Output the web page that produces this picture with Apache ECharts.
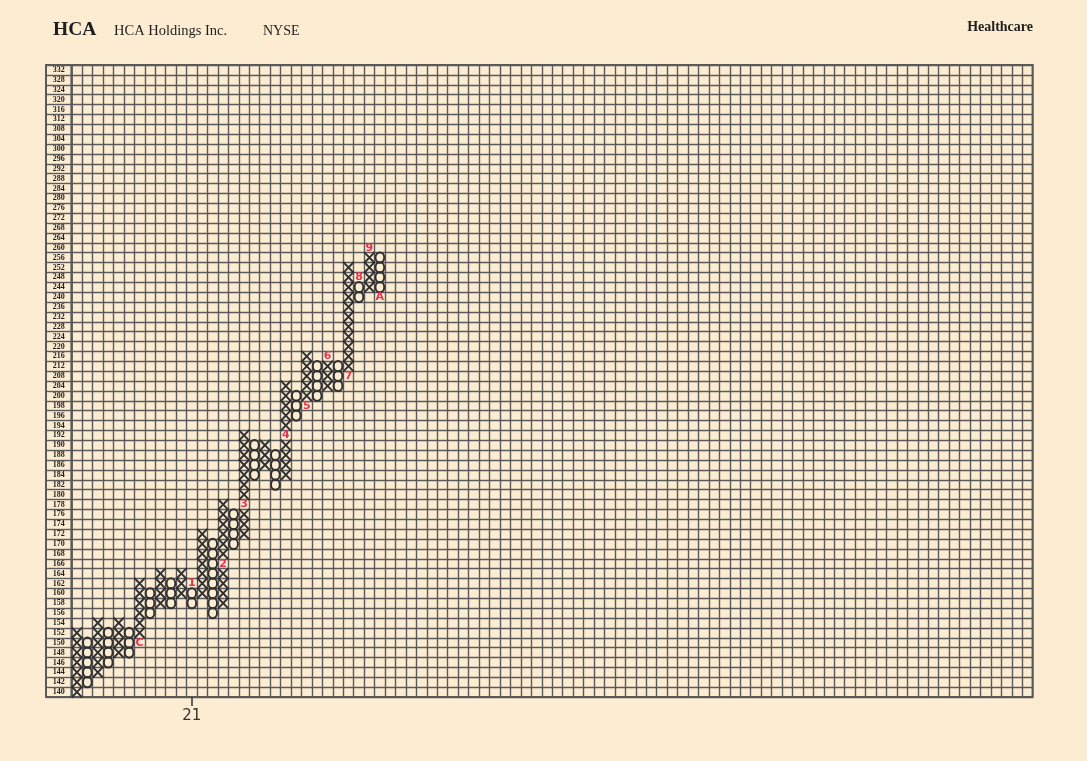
<!DOCTYPE html>
<html>
<head>
<meta charset="utf-8">
<script src="https://cdn.jsdelivr.net/npm/echarts@6/dist/echarts.min.js"></script>
<style>
html,body{margin:0;padding:0;background:#fcecd2;}
#chart{width:1087px;height:761px;}
</style>
</head>
<body>
<div id="chart"></div>
<script>
// Price boxes (row labels), bottom to top
const rows = [140,142,144,146,148,150,152,154,156,158,160,162,164,166,168,170,172,174,176,178,180,182,184,186,188,190,192,194,196,198,200,
  204,208,212,216,220,224,228,232,236,240,244,248,252,256,260,264,268,272,276,280,284,288,292,296,300,304,308,312,316,320,324,328,332];
const columnCount = 92;

// Point & figure columns (X = rising, O = falling)
const colType = ['X','O','X','O','X','O','X','O','X','O','X','O','X','O','X','O','X','O','X','O','X','O','X','O','X','O','X','O','X','O'];
const colLow  = [140,142,144,146,148,148,150,156,158,158,160,158,160,156,158,170,172,184,186,182,184,196,198,200,204,204,208,240,244,240];
const colHigh = [152,150,154,152,154,152,162,160,164,162,164,162,172,170,178,176,192,190,190,188,204,200,216,212,216,212,252,248,260,256];

// Month markers (column index, box value, label)
const markCol   = [6,11,14,16,20,22,24,26,27,28,29];
const markValue = [150,162,166,178,192,198,216,208,248,260,240];
const markText  = ['C','1','2','3','4','5','6','7','8','9','A'];

// Year marker on the time axis
const yearCol = 11;
const yearLabel = '21';

const boxes = [];
for (let c = 0; c < colType.length; c++) {
  const lo = rows.indexOf(colLow[c]), hi = rows.indexOf(colHigh[c]);
  for (let r = lo; r <= hi; r++) {
    let marked = false;
    for (let m = 0; m < markCol.length; m++) {
      if (markCol[m] === c && markValue[m] === rows[r]) marked = true;
    }
    if (!marked) boxes.push([c, r, colType[c]]);
  }
}
const marks = markCol.map((c, i) => [c, rows.indexOf(markValue[i]), markText[i]]);

const cols = [];
for (let i = 0; i < columnCount; i++) cols.push(String(i));

const lineColor = '#5a5a5a';
const inkColor = '#303030';

const chart = echarts.init(document.getElementById('chart'), null, {renderer:'canvas'});
chart.setOption({
  backgroundColor: '#fcecd2',
  animation: false,
  title: [
    {text:'HCA', left:53, top:20, padding:0, textStyle:{fontFamily:'Liberation Serif', fontWeight:'bold', fontSize:19.5, color:'#1e1e1e'}},
    {text:'HCA Holdings Inc.', left:114, top:24, padding:0, textStyle:{fontFamily:'Liberation Serif', fontWeight:'normal', fontSize:14.5, color:'#1e1e1e'}},
    {text:'NYSE', left:263, top:24, padding:0, textStyle:{fontFamily:'Liberation Serif', fontWeight:'normal', fontSize:14, color:'#1e1e1e'}},
    {text:'Healthcare', right:54, top:20, padding:0, textStyle:{fontFamily:'Liberation Serif', fontWeight:'bold', fontSize:14, color:'#1e1e1e'}}
  ],
  grid: [
    {left:71.7, right:54.3, top:65, bottom:64, show:true, borderColor:lineColor, borderWidth:2, backgroundColor:'transparent'},
    {left:46, width:25.7, top:65, bottom:64, show:true, borderColor:lineColor, borderWidth:2, backgroundColor:'transparent'}
  ],
  xAxis: [
    {type:'category', gridIndex:0, data:cols, boundaryGap:true,
     axisLine:{show:false},
     axisTick:{show:true, alignWithLabel:true, length:9, interval:(i)=>i===yearCol, lineStyle:{color:'#333', width:1.5}},
     axisLabel:{show:true, interval:(i)=>i===yearCol, formatter:(v,i)=> i===yearCol ? yearLabel : '', margin:12, fontSize:15, color:'#333', fontFamily:'DejaVu Sans'},
     splitLine:{show:true, interval:0, lineStyle:{color:lineColor, width:1.4}}},
    {type:'category', gridIndex:1, data:['a'], axisLine:{show:false}, axisTick:{show:false}, axisLabel:{show:false}, splitLine:{show:false}}
  ],
  yAxis: [
    {type:'category', gridIndex:0, data:rows, boundaryGap:true,
     axisLine:{show:false}, axisTick:{show:false},
     axisLabel:{show:true, interval:0, align:'center', margin:13, fontSize:8, fontWeight:'bold', fontFamily:'Liberation Serif', color:'#1e1e1e'},
     splitLine:{show:true, interval:0, lineStyle:{color:lineColor, width:1.4}}},
    {type:'category', gridIndex:1, data:rows, boundaryGap:true,
     axisLine:{show:false}, axisTick:{show:false}, axisLabel:{show:false},
     splitLine:{show:true, interval:0, lineStyle:{color:lineColor, width:1.4}}}
  ],
  series: [
    {type:'custom', xAxisIndex:0, yAxisIndex:0, data:boxes, silent:true,
     renderItem:function(params, api){
       const p = api.coord([api.value(0), api.value(1)]);
       const s = api.size([1,1]);
       const t = boxes[params.dataIndex][2];
       if (t === 'X') {
         const dx = s[0]*0.5, dy = s[1]*0.55;
         return {type:'group', children:[
           {type:'line', shape:{x1:p[0]-dx, y1:p[1]-dy, x2:p[0]+dx, y2:p[1]+dy}, style:{stroke:inkColor, lineWidth:1.9}},
           {type:'line', shape:{x1:p[0]+dx, y1:p[1]-dy, x2:p[0]-dx, y2:p[1]+dy}, style:{stroke:inkColor, lineWidth:1.9}}
         ]};
       }
       return {type:'ellipse', shape:{cx:p[0], cy:p[1], rx:s[0]*0.42, ry:s[1]*0.52}, style:{fill:'none', stroke:inkColor, lineWidth:2}};
     }},
    {type:'custom', xAxisIndex:0, yAxisIndex:0, data:marks, silent:true,
     renderItem:function(params, api){
       const p = api.coord([api.value(0), api.value(1)]);
       return {type:'text', x:p[0], y:p[1], style:{text:marks[params.dataIndex][2], fill:'#e8324f', font:'bold 11px "DejaVu Sans"', textAlign:'center', textVerticalAlign:'middle'}};
     }}
  ]
});
</script>
</body>
</html>
